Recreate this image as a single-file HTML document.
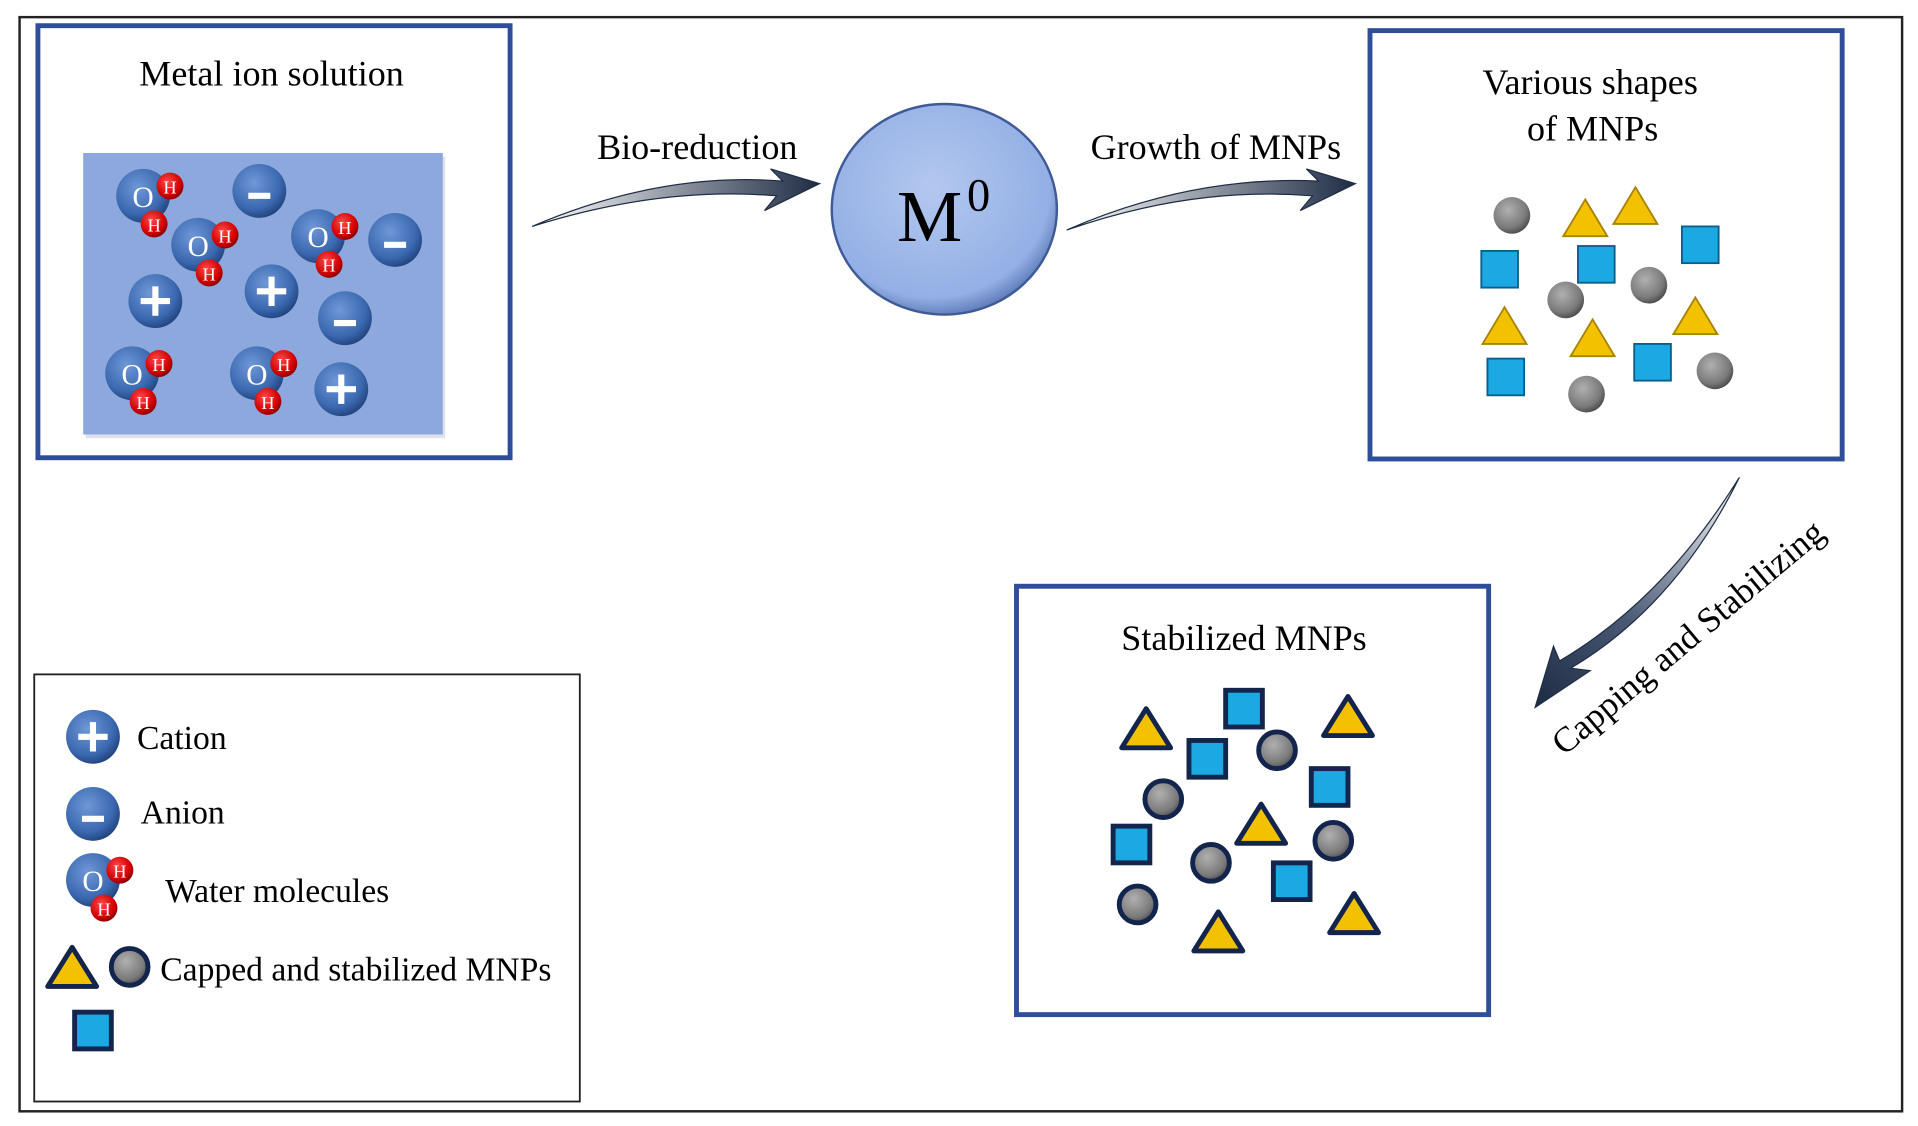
<!DOCTYPE html>
<html><head><meta charset="utf-8"><style>
html,body{margin:0;padding:0;background:#fff;}
svg{display:block;}
text{font-family:"Liberation Serif",serif;}
</style></head><body>
<svg width="1918" height="1126" viewBox="0 0 1568 920" preserveAspectRatio="none" xmlns="http://www.w3.org/2000/svg">
<defs>
<radialGradient id="gb" cx="0.4" cy="0.35" r="0.7"><stop offset="0" stop-color="#6f98d8"/><stop offset="0.7" stop-color="#3a67ae"/><stop offset="1" stop-color="#1e3f78"/></radialGradient>
<radialGradient id="gr" cx="0.4" cy="0.35" r="0.7"><stop offset="0" stop-color="#ff4a4a"/><stop offset="0.7" stop-color="#d10000"/><stop offset="1" stop-color="#7a0000"/></radialGradient>
<radialGradient id="gg" cx="0.4" cy="0.35" r="0.7"><stop offset="0" stop-color="#b0b0b0"/><stop offset="0.7" stop-color="#7a7a7a"/><stop offset="1" stop-color="#444"/></radialGradient>
<radialGradient id="gm" cx="0.45" cy="0.4" r="0.65"><stop offset="0" stop-color="#b3c8f0"/><stop offset="0.8" stop-color="#93afe4"/><stop offset="1" stop-color="#4a67a8"/></radialGradient>
<linearGradient id="ga" x1="0" y1="0" x2="1" y2="0"><stop offset="0" stop-color="#fff"/><stop offset="1" stop-color="#1f2d45"/></linearGradient>
<linearGradient id="gc" gradientUnits="userSpaceOnUse" x1="1422" y1="390" x2="1260" y2="575"><stop offset="0" stop-color="#fff"/><stop offset="0.6" stop-color="#4a5a75"/><stop offset="1" stop-color="#1f2d45"/></linearGradient>
<g id="cat"><circle r="22" fill="url(#gb)"/><path d="M-12 0H12M0 -12V12" stroke="#fff" stroke-width="5"/></g>
<g id="ani"><circle r="22" fill="url(#gb)"/><path d="M-9 4H9" stroke="#fff" stroke-width="5"/></g>
<g id="wat"><circle r="22" fill="url(#gb)"/><text x="0" y="9" font-size="24" fill="#fff" text-anchor="middle">O</text>
<circle cx="22" cy="-8" r="11" fill="url(#gr)"/><text x="22" y="-2" font-size="15" fill="#fff" text-anchor="middle" font-family="Liberation Sans">H</text>
<circle cx="9" cy="23" r="11" fill="url(#gr)"/><text x="9" y="29" font-size="15" fill="#fff" text-anchor="middle" font-family="Liberation Sans">H</text></g>
<g id="sp"><circle r="15" fill="url(#gg)"/></g>
<g id="tr"><polygon points="0,-17 18,13 -18,13" fill="#f2c200" stroke="#a88300" stroke-width="1.5"/></g>
<g id="sq"><rect x="-15" y="-15" width="30" height="30" fill="#1ba8e3" stroke="#0b5d8a" stroke-width="1.5"/></g>
<g id="sp3"><circle r="15" fill="url(#gg)" stroke="#13244d" stroke-width="4"/></g>
<g id="tr3"><polygon points="0,-18 20,14 -20,14" fill="#f2c200" stroke="#13244d" stroke-width="4" stroke-linejoin="round"/></g>
<g id="sq3"><rect x="-15" y="-15" width="30" height="30" fill="#1ba8e3" stroke="#13244d" stroke-width="4"/></g>
</defs>
<rect x="16" y="14" width="1539" height="894" fill="none" stroke="#222" stroke-width="2"/>
<!-- box1 -->
<rect x="31" y="21" width="386" height="353" fill="none" stroke="#2e4e99" stroke-width="4"/>
<text x="222" y="70" font-size="29.5" text-anchor="middle">Metal ion solution</text>
<rect x="70" y="128" width="294" height="230" fill="#c6cfe0" opacity="0.6"/>
<rect x="68" y="125" width="294" height="230" fill="#8ca8dc"/>
<use href="#wat" x="117" y="160"/><use href="#ani" x="212" y="156"/>
<use href="#wat" x="162" y="200"/><use href="#wat" x="260" y="193"/>
<use href="#ani" x="323" y="196"/><use href="#cat" x="127" y="246"/>
<use href="#cat" x="222" y="238"/><use href="#ani" x="282" y="260"/>
<use href="#wat" x="108" y="305"/><use href="#wat" x="210" y="305"/>
<use href="#cat" x="279" y="318"/>
<!-- arrow1 -->
<path d="M435 185 Q540 140 640 148 L630 138 L670 150 L625 172 L635 160 Q540 152 435 185Z" fill="url(#ga)" stroke="#1f2d45" stroke-width="1"/>
<text x="570" y="130" font-size="29.5" text-anchor="middle">Bio-reduction</text>
<!-- M0 -->
<ellipse cx="772" cy="171" rx="92" ry="86" fill="url(#gm)" stroke="#3f5a96" stroke-width="2"/>
<text x="760" y="197" font-size="60" text-anchor="middle">M</text>
<text x="800" y="172" font-size="38" text-anchor="middle">0</text>
<!-- arrow2 -->
<path d="M872 188 Q975 143 1078 148 L1068 138 L1108 150 L1063 172 L1073 160 Q975 152 872 188Z" fill="url(#ga)" stroke="#1f2d45" stroke-width="1"/>
<text x="994" y="130" font-size="29.5" text-anchor="middle">Growth of MNPs</text>
<!-- box2 -->
<rect x="1120" y="25" width="386" height="350" fill="none" stroke="#2e4e99" stroke-width="4"/>
<text x="1300" y="77" font-size="29.5" text-anchor="middle">Various shapes</text>
<text x="1302" y="115" font-size="29.5" text-anchor="middle">of MNPs</text>
<use href="#sp" x="1236" y="176"/><use href="#sp" x="1280" y="245"/><use href="#sp" x="1348" y="233"/><use href="#sp" x="1402" y="303"/><use href="#sp" x="1297" y="322"/>
<use href="#tr" x="1296" y="180"/><use href="#tr" x="1337" y="170"/><use href="#tr" x="1230" y="268"/><use href="#tr" x="1302" y="278"/><use href="#tr" x="1386" y="260"/>
<use href="#sq" x="1226" y="220"/><use href="#sq" x="1305" y="216"/><use href="#sq" x="1390" y="200"/><use href="#sq" x="1231" y="308"/><use href="#sq" x="1351" y="296"/>
<!-- arrow3 -->
<path d="M1422 390 Q1360 490 1275 540 L1270 528 L1255 578 L1300 548 L1284 546 Q1370 495 1422 390Z" fill="url(#gc)" stroke="#1f2d45" stroke-width="1"/>
<text x="0" y="0" font-size="29" text-anchor="middle" transform="translate(1386,528) rotate(-40)">Capping and Stabilizing</text>
<!-- box3 -->
<rect x="831" y="479" width="386" height="350" fill="none" stroke="#2e4e99" stroke-width="4"/>
<text x="1017" y="531" font-size="29.5" text-anchor="middle">Stabilized MNPs</text>
<use href="#tr3" x="937" y="597"/><use href="#tr3" x="1102" y="587"/><use href="#tr3" x="1031" y="675"/><use href="#tr3" x="996" y="763"/><use href="#tr3" x="1107" y="748"/>
<use href="#sq3" x="1017" y="579"/><use href="#sq3" x="987" y="620"/><use href="#sq3" x="1087" y="643"/><use href="#sq3" x="925" y="690"/><use href="#sq3" x="1056" y="720"/>
<use href="#sp3" x="1044" y="613"/><use href="#sp3" x="951" y="653"/><use href="#sp3" x="990" y="705"/><use href="#sp3" x="1090" y="687"/><use href="#sp3" x="930" y="739"/>
<!-- legend -->
<rect x="28" y="551" width="446" height="349" fill="none" stroke="#222" stroke-width="1.5"/>
<use href="#cat" x="76" y="602"/><text x="112" y="612" font-size="27.5">Cation</text>
<use href="#ani" x="76" y="665"/><text x="115" y="673" font-size="27.5">Anion</text>
<use href="#wat" x="76" y="719"/><text x="135" y="737" font-size="27.5">Water molecules</text>
<use href="#tr3" x="59" y="792"/><use href="#sp3" x="106" y="790"/>
<text x="131" y="801" font-size="27.5">Capped and stabilized MNPs</text>
<use href="#sq3" x="76" y="842"/>
</svg>
</body></html>
